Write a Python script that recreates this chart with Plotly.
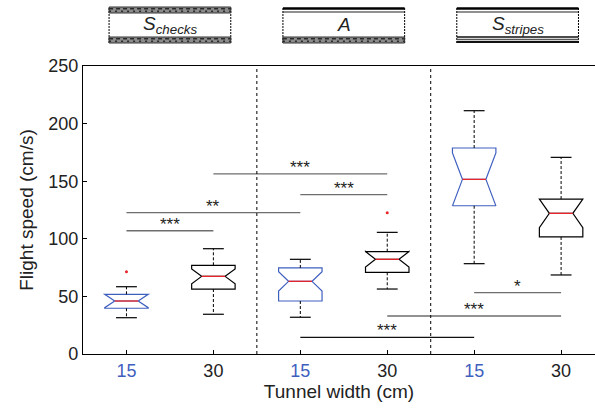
import plotly.graph_objects as go

# ---- data ----
positions = [1, 2, 3, 4, 5, 6]
groups = ["blue", "black", "blue", "black", "blue", "black"]
q1 = [39.7, 56.4, 46.0, 70.9, 128.7, 101.6]
median = [46.0, 67.4, 63.1, 82.2, 151.6, 122.1]
q3 = [51.8, 77.0, 74.7, 88.8, 178.8, 134.5]
lower_whisker = [31.5, 34.5, 31.9, 56.4, 78.4, 68.6]
upper_whisker = [58.4, 91.4, 82.2, 105.6, 211.2, 170.7]
notch_span = [5.8, 6.4, 8.4, 6.7, 23.0, 12.4]
outlier_x = [1, 4]
outlier_y = [71.4, 122.7]

sig_from = [1, 1, 2, 3, 3, 4, 5]
sig_to = [2, 3, 4, 4, 5, 6, 6]
sig_y = [107.0, 122.7, 156.3, 138.3, 14.5, 33.0, 53.2]
sig_text = ["***", "**", "***", "***", "***", "***", "*"]
sig_color = ["#6e6e6e", "#6e6e6e", "#6e6e6e", "#6e6e6e", "#111111", "#6e6e6e", "#6e6e6e"]

tick_labels = ["15", "30", "15", "30", "15", "30"]
panel_centers = [1.5, 3.5, 5.5]
panel_labels = ["<i>S<sub>checks</sub></i>", "<i>A</i>", "<i>S<sub>stripes</sub></i>"]

BLUE = "#3f5fbf"
BOX_W = 0.5
NOTCH_W = 0.23
X_RANGE = [0.5, 6.39]

fig = go.Figure()

# dashed whiskers + caps
for i, p in enumerate(positions):
    for a, b in ((q3[i], upper_whisker[i]), (q1[i], lower_whisker[i])):
        fig.add_trace(go.Scatter(x=[p, p], y=[a, b], mode="lines",
                                 line=dict(color="black", width=1, dash="3px,2px"),
                                 hoverinfo="skip", showlegend=False))
        fig.add_trace(go.Scatter(x=[p - 0.12, p + 0.12], y=[b, b], mode="lines",
                                 line=dict(color="black", width=1.2),
                                 hoverinfo="skip", showlegend=False))

# notched boxes
for col, lc in (("blue", BLUE), ("black", "black")):
    idx = [i for i, g in enumerate(groups) if g == col]
    fig.add_trace(go.Box(
        x=[positions[i] for i in idx],
        q1=[q1[i] for i in idx],
        median=[median[i] for i in idx],
        q3=[q3[i] for i in idx],
        lowerfence=[q1[i] for i in idx],
        upperfence=[q3[i] for i in idx],
        notchspan=[notch_span[i] for i in idx],
        notched=True, notchwidth=NOTCH_W, width=BOX_W, whiskerwidth=0,
        line=dict(color=lc, width=1.2), fillcolor="white",
        boxpoints=False, showlegend=False, hoverinfo="skip"))

# red medians
half = BOX_W / 2 * (1 - 2 * NOTCH_W)
for i, p in enumerate(positions):
    fig.add_trace(go.Scatter(x=[p - half, p + half], y=[median[i], median[i]], mode="lines",
                             line=dict(color="#e8252a", width=1.3),
                             hoverinfo="skip", showlegend=False))

# outliers
fig.add_trace(go.Scatter(x=outlier_x, y=outlier_y, mode="markers",
                         marker=dict(color="#e8252a", size=3),
                         hoverinfo="skip", showlegend=False))

# significance bars
for a, b, y, t, c in zip(sig_from, sig_to, sig_y, sig_text, sig_color):
    fig.add_trace(go.Scatter(x=[a, b], y=[y, y], mode="lines",
                             line=dict(color=c, width=1.3),
                             hoverinfo="skip", showlegend=False))
    fig.add_annotation(x=(a + b) / 2, y=y, text=t, showarrow=False,
                       yanchor="bottom", yshift=-5,
                       font=dict(family="Liberation Sans, Arial", size=17, color="#222"))

# separators
for xs in (2.5, 4.5):
    fig.add_shape(type="line", xref="x", yref="paper", x0=xs, x1=xs, y0=0, y1=1,
                  line=dict(color="black", width=1, dash="dot"))

# top panels (decorative stimulus icons), placed in paper coordinates
def xp(d):
    return (d - X_RANGE[0]) / (X_RANGE[1] - X_RANGE[0])

def yp(px):
    return (354 - px) / 288.0

def texture(x0, x1, top, bot):
    fig.add_shape(type="rect", xref="paper", yref="paper", x0=x0, x1=x1, y0=yp(bot), y1=yp(top),
                  fillcolor="#8c8c8c", line=dict(color="#333", width=1))
    for yy, d in (((top + bot) / 2 - 1.2, "4px,3px"), ((top + bot) / 2 + 1.2, "2px,4px")):
        fig.add_shape(type="line", xref="paper", yref="paper", x0=x0, x1=x1,
                      y0=yp(yy), y1=yp(yy),
                      line=dict(color="#2a2a2a", width=1.5, dash=d))

def stripes(x0, x1, ys, widths, colors):
    for y, w, c in zip(ys, widths, colors):
        fig.add_shape(type="line", xref="paper", yref="paper", x0=x0, x1=x1, y0=yp(y), y1=yp(y),
                      line=dict(color=c, width=w))

for k, c in enumerate(panel_centers):
    x0, x1 = xp(c - 0.7), xp(c + 0.7)
    for xx in (x0, x1):
        fig.add_shape(type="line", xref="paper", yref="paper", x0=xx, x1=xx, y0=yp(43), y1=yp(7),
                      line=dict(color="black", width=1, dash="2px,1px"))
    if k == 0:
        texture(x0, x1, 7, 13)
        texture(x0, x1, 37, 43)
    elif k == 1:
        stripes(x0, x1, [8.5, 12], [2.5, 1.2], ["black", "#222"])
        texture(x0, x1, 37, 43)
    else:
        stripes(x0, x1, [8.5, 12], [2.5, 1.2], ["black", "#222"])
        stripes(x0, x1, [37, 39.5, 42], [1.5, 1.5, 2], ["#111", "#555", "#111"])
    fig.add_annotation(x=xp(c), y=yp(25), xref="paper", yref="paper",
                       text=panel_labels[k], showarrow=False,
                       xanchor="center", yanchor="middle",
                       font=dict(family="Liberation Sans, Arial", size=19, color="#222"))

fig.update_layout(
    width=595, height=408,
    margin=dict(l=83, r=0, t=66, b=54),
    paper_bgcolor="white", plot_bgcolor="white",
    boxmode="overlay",
    font=dict(family="Liberation Sans, Arial", size=18, color="#222"),
    xaxis=dict(range=X_RANGE, tickvals=positions,
               ticktext=[f'<span style="color:{BLUE}">{t}</span>' if g == "blue" else t
                         for t, g in zip(tick_labels, groups)],
               ticks="inside", ticklen=4, tickcolor="black",
               showline=True, linecolor="black", linewidth=1.3, mirror=True,
               showgrid=False, zeroline=False,
               title=dict(text="Tunnel width (cm)", standoff=1,
                          font=dict(family="Liberation Sans, Arial", size=19, color="#222"))),
    yaxis=dict(range=[0, 250], tickvals=[0, 50, 100, 150, 200, 250],
               ticks="inside", ticklen=4, tickcolor="black",
               showline=True, linecolor="black", linewidth=1.3,
               showgrid=False, zeroline=False,
               title=dict(text="Flight speed (cm/s)", standoff=9,
                          font=dict(family="Liberation Sans, Arial", size=19, color="#222"))),
)

fig.write_html("out.html")
